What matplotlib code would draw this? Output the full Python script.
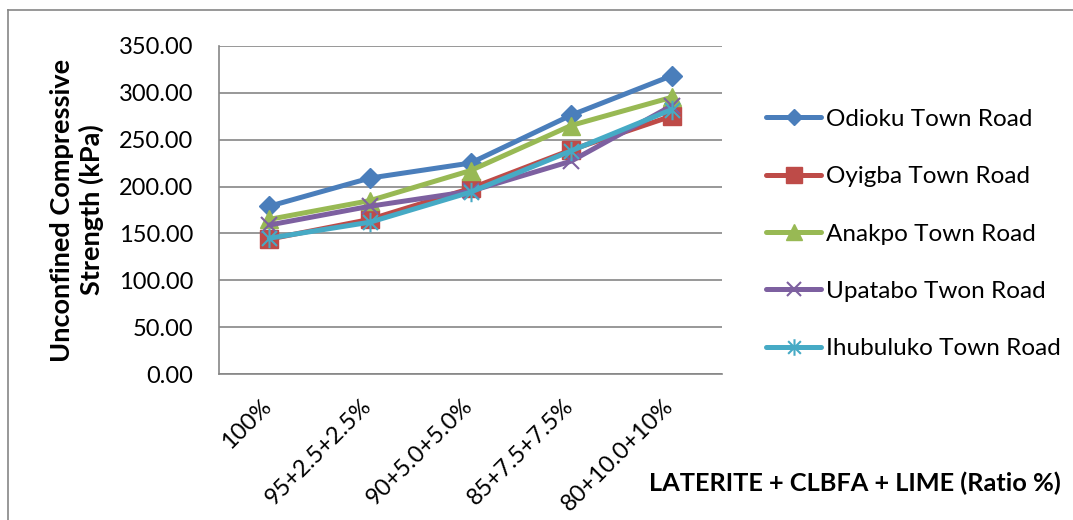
import matplotlib
matplotlib.use("Agg")
import matplotlib.pyplot as plt
import matplotlib.transforms as mtransforms
from matplotlib.lines import Line2D
from matplotlib.path import Path

# Mix ratios (laterite + CLBFA + lime) on the category axis
mixes = ["100%", "95+2.5+2.5%", "90+5.0+5.0%", "85+7.5+7.5%", "80+10.0+10%"]

# Unconfined compressive strength (kPa) per road
odioku = [179, 209, 225, 276, 318]
oyigba = [144, 165, 198, 239, 275]
anakpo = [165, 185, 217, 265, 295]
upatabo = [159, 179, 195, 227, 286]
ihubuluko = [145, 162, 194, 238, 282]

road_names = ["Odioku Town Road", "Oyigba Town Road", "Anakpo Town Road",
              "Upatabo Twon Road", "Ihubuluko Town Road"]
y_ticks = [0, 50, 100, 150, 200, 250, 300, 350]

FONT = "Lato"
plt.rcParams["font.family"] = [FONT, "DejaVu Sans"]

W, H = 1073, 520
fig = plt.figure(figsize=(W / 100, H / 100), dpi=100)
fig.patch.set_facecolor("white")

# chart-area border (left and top edges visible)
border = "#868686"
fig.add_artist(Line2D([7.5 / W, 7.5 / W], [0, 1 - 9.5 / H], transform=fig.transFigure,
                      color=border, lw=1.2))
fig.add_artist(Line2D([7.5 / W, 1], [1 - 9.5 / H, 1 - 9.5 / H], transform=fig.transFigure,
                      color=border, lw=1.2))

left, right, top, bottom = 219, 722, 45.7, 374.3
ax = fig.add_axes([left / W, 1 - bottom / H, (right - left) / W, (bottom - top) / H])

# asterisk marker: an x crossed by a vertical stroke
asterisk = Path([(-1, -1), (1, 1), (-1, 1), (1, -1), (0, -1.3), (0, 1.3)],
                [Path.MOVETO, Path.LINETO, Path.MOVETO, Path.LINETO, Path.MOVETO, Path.LINETO])

series = [
    (odioku, "#4A7EBB", dict(marker="D", markersize=10, markeredgewidth=1)),
    (oyigba, "#BE4B48", dict(marker="s", markersize=13, markeredgewidth=1)),
    (anakpo, "#98B954", dict(marker="^", markersize=13, markeredgewidth=1)),
    (upatabo, "#7D60A0", dict(marker="x", markersize=12, markeredgewidth=1.5)),
    (ihubuluko, "#46AAC5", dict(marker=asterisk, markersize=14, markeredgewidth=1.5,
                                fillstyle="none")),
]

x = list(range(len(mixes)))
for i, ((vals, color, mk), name) in enumerate(zip(series, road_names)):
    ax.plot(x, vals, color=color, lw=3.6, markerfacecolor=color, markeredgecolor=color,
            label=name, zorder=3 + i, solid_capstyle="round", **mk)

ax.set_xlim(-0.5, len(mixes) - 0.5)
ax.set_ylim(0, 350)
ax.set_yticks(y_ticks, [f"{v:.2f}" for v in y_ticks])
ax.yaxis.grid(True, color=border, lw=1.2)
ax.set_axisbelow(True)
for s in ("top", "right"):
    ax.spines[s].set_visible(False)
for s in ("left", "bottom"):
    ax.spines[s].set_color(border)
    ax.spines[s].set_linewidth(1.2)

ax.tick_params(axis="y", length=0, pad=18.5, labelsize=17, labelcolor="black")
ax.set_xticks(x, mixes, rotation=45, ha="right")
ax.tick_params(axis="x", length=0, pad=15, labelsize=17, labelcolor="black")
shift = mtransforms.ScaledTranslation(6 / 100, 0, fig.dpi_scale_trans)
for lbl in ax.get_xticklabels():
    lbl.set_transform(lbl.get_transform() + shift)

fig.text(77 / W, 1 - 210 / H, "Unconfined Compressive\nStrength (kPa)", rotation=90,
         ha="center", va="center", multialignment="center", fontsize=19.5,
         fontweight="bold", linespacing=1.25)
fig.text(649 / W, 1 - 491 / H, "LATERITE + CLBFA + LIME (Ratio %)", ha="left",
         va="baseline", fontsize=18.3, fontweight="bold")

fs = 17.5
fpx = fs * 100 / 72
fig.legend(loc="center left", bbox_to_anchor=(766 / W, 1 - 234 / H), frameon=False,
           borderpad=0, borderaxespad=0, fontsize=fs, handlelength=55 / fpx,
           handletextpad=5 / fpx, labelspacing=1.5, markerscale=0.85)

fig.savefig("out.png", dpi=100)
